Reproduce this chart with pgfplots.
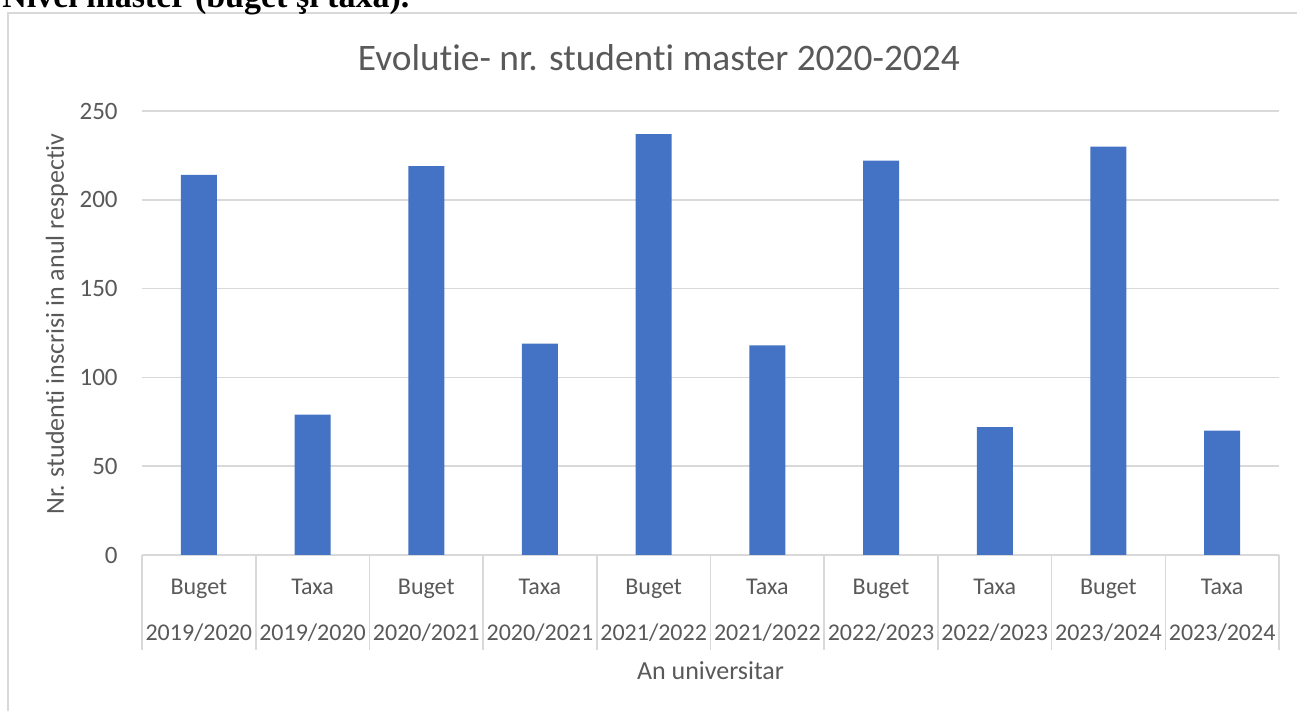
\documentclass[border=0pt]{standalone}
\usepackage{fontspec}
\setmainfont{Carlito}[Ligatures={NoCommon}]
\newfontfamily\headfont{Liberation Serif}
\usepackage{pgfplots}
\pgfplotsset{compat=1.18}

\definecolor{barblue}{HTML}{4472C4}
\definecolor{txtgray}{HTML}{595959}
\definecolor{linegray}{HTML}{D9D9D9}

\begin{document}
\begin{tikzpicture}
\useasboundingbox (0,0) rectangle (648.5pt,355.5pt);

% chart frame, cut by the page edge
\draw[linegray, line width=1pt] (660pt,348.8pt) -- (4pt,348.8pt) -- (4pt,-5pt);
% heading of the document, only its lower part shows
\node[anchor=base west, inner sep=0pt, font=\headfont\bfseries\fontsize{17}{20}\selectfont]
  at (1pt,351.5pt) {Nivel master (buget şi taxa).};

\begin{axis}[
    at={(71pt,78pt)}, anchor=south west,
    scale only axis,
    width=568.5pt, height=222pt,
    xmin=-0.5, xmax=9.5,
    ymin=0, ymax=250,
    ytick={0,50,...,250},
    xtick={0,...,9},
    xticklabels={{Buget\\2019/2020},{Taxa\\2019/2020},{Buget\\2020/2021},{Taxa\\2020/2021},
                 {Buget\\2021/2022},{Taxa\\2021/2022},{Buget\\2022/2023},{Taxa\\2022/2023},
                 {Buget\\2023/2024},{Taxa\\2023/2024}},
    extra x ticks={-0.5,0.5,...,9.5},
    extra x tick labels={},
    extra x tick style={major tick length=47.5pt, tick align=outside, xmajorgrids=false},
    major tick length=0pt,
    tick style={draw=linegray, line width=0.8pt},
    axis x line*=bottom, axis y line*=left,
    x axis line style={draw=linegray, line width=0.8pt, -},
    y axis line style={draw=none},
    ymajorgrids,
    grid style={draw=linegray, line width=0.8pt},
    /pgf/number format/assume math mode=true,
    xticklabel style={align=center, anchor=north, inner sep=0pt, yshift=-12pt,
        font=\fontsize{12}{23}\selectfont, text=txtgray},
    yticklabel style={anchor=east, inner sep=0pt, xshift=-12pt,
        font=\fontsize{12.5}{15}\selectfont, text=txtgray},
    title={Evolutie- nr. studenti master 2020-2024},
    title style={at={(axis description cs:0.4547,1.119)}, anchor=center, yshift=-6pt,
        font=\fontsize{18.7}{22}\selectfont, text=txtgray},
    xlabel={An universitar},
    xlabel style={at={(axis description cs:0.5,-0.261)}, anchor=center,
        font=\fontsize{13}{16}\selectfont, text=txtgray},
    ylabel={Nr. studenti inscrisi in anul respectiv},
    ylabel style={at={(axis description cs:-0.0748,0.52)}, anchor=center,
        font=\fontsize{13}{16}\selectfont, text=txtgray},
]
\addplot[ybar, bar width=18pt, fill=barblue, draw=none]
  coordinates {(0,214) (1,79) (2,219) (3,119) (4,237) (5,118) (6,222) (7,72) (8,230) (9,70)};
\end{axis}
\end{tikzpicture}
\end{document}
